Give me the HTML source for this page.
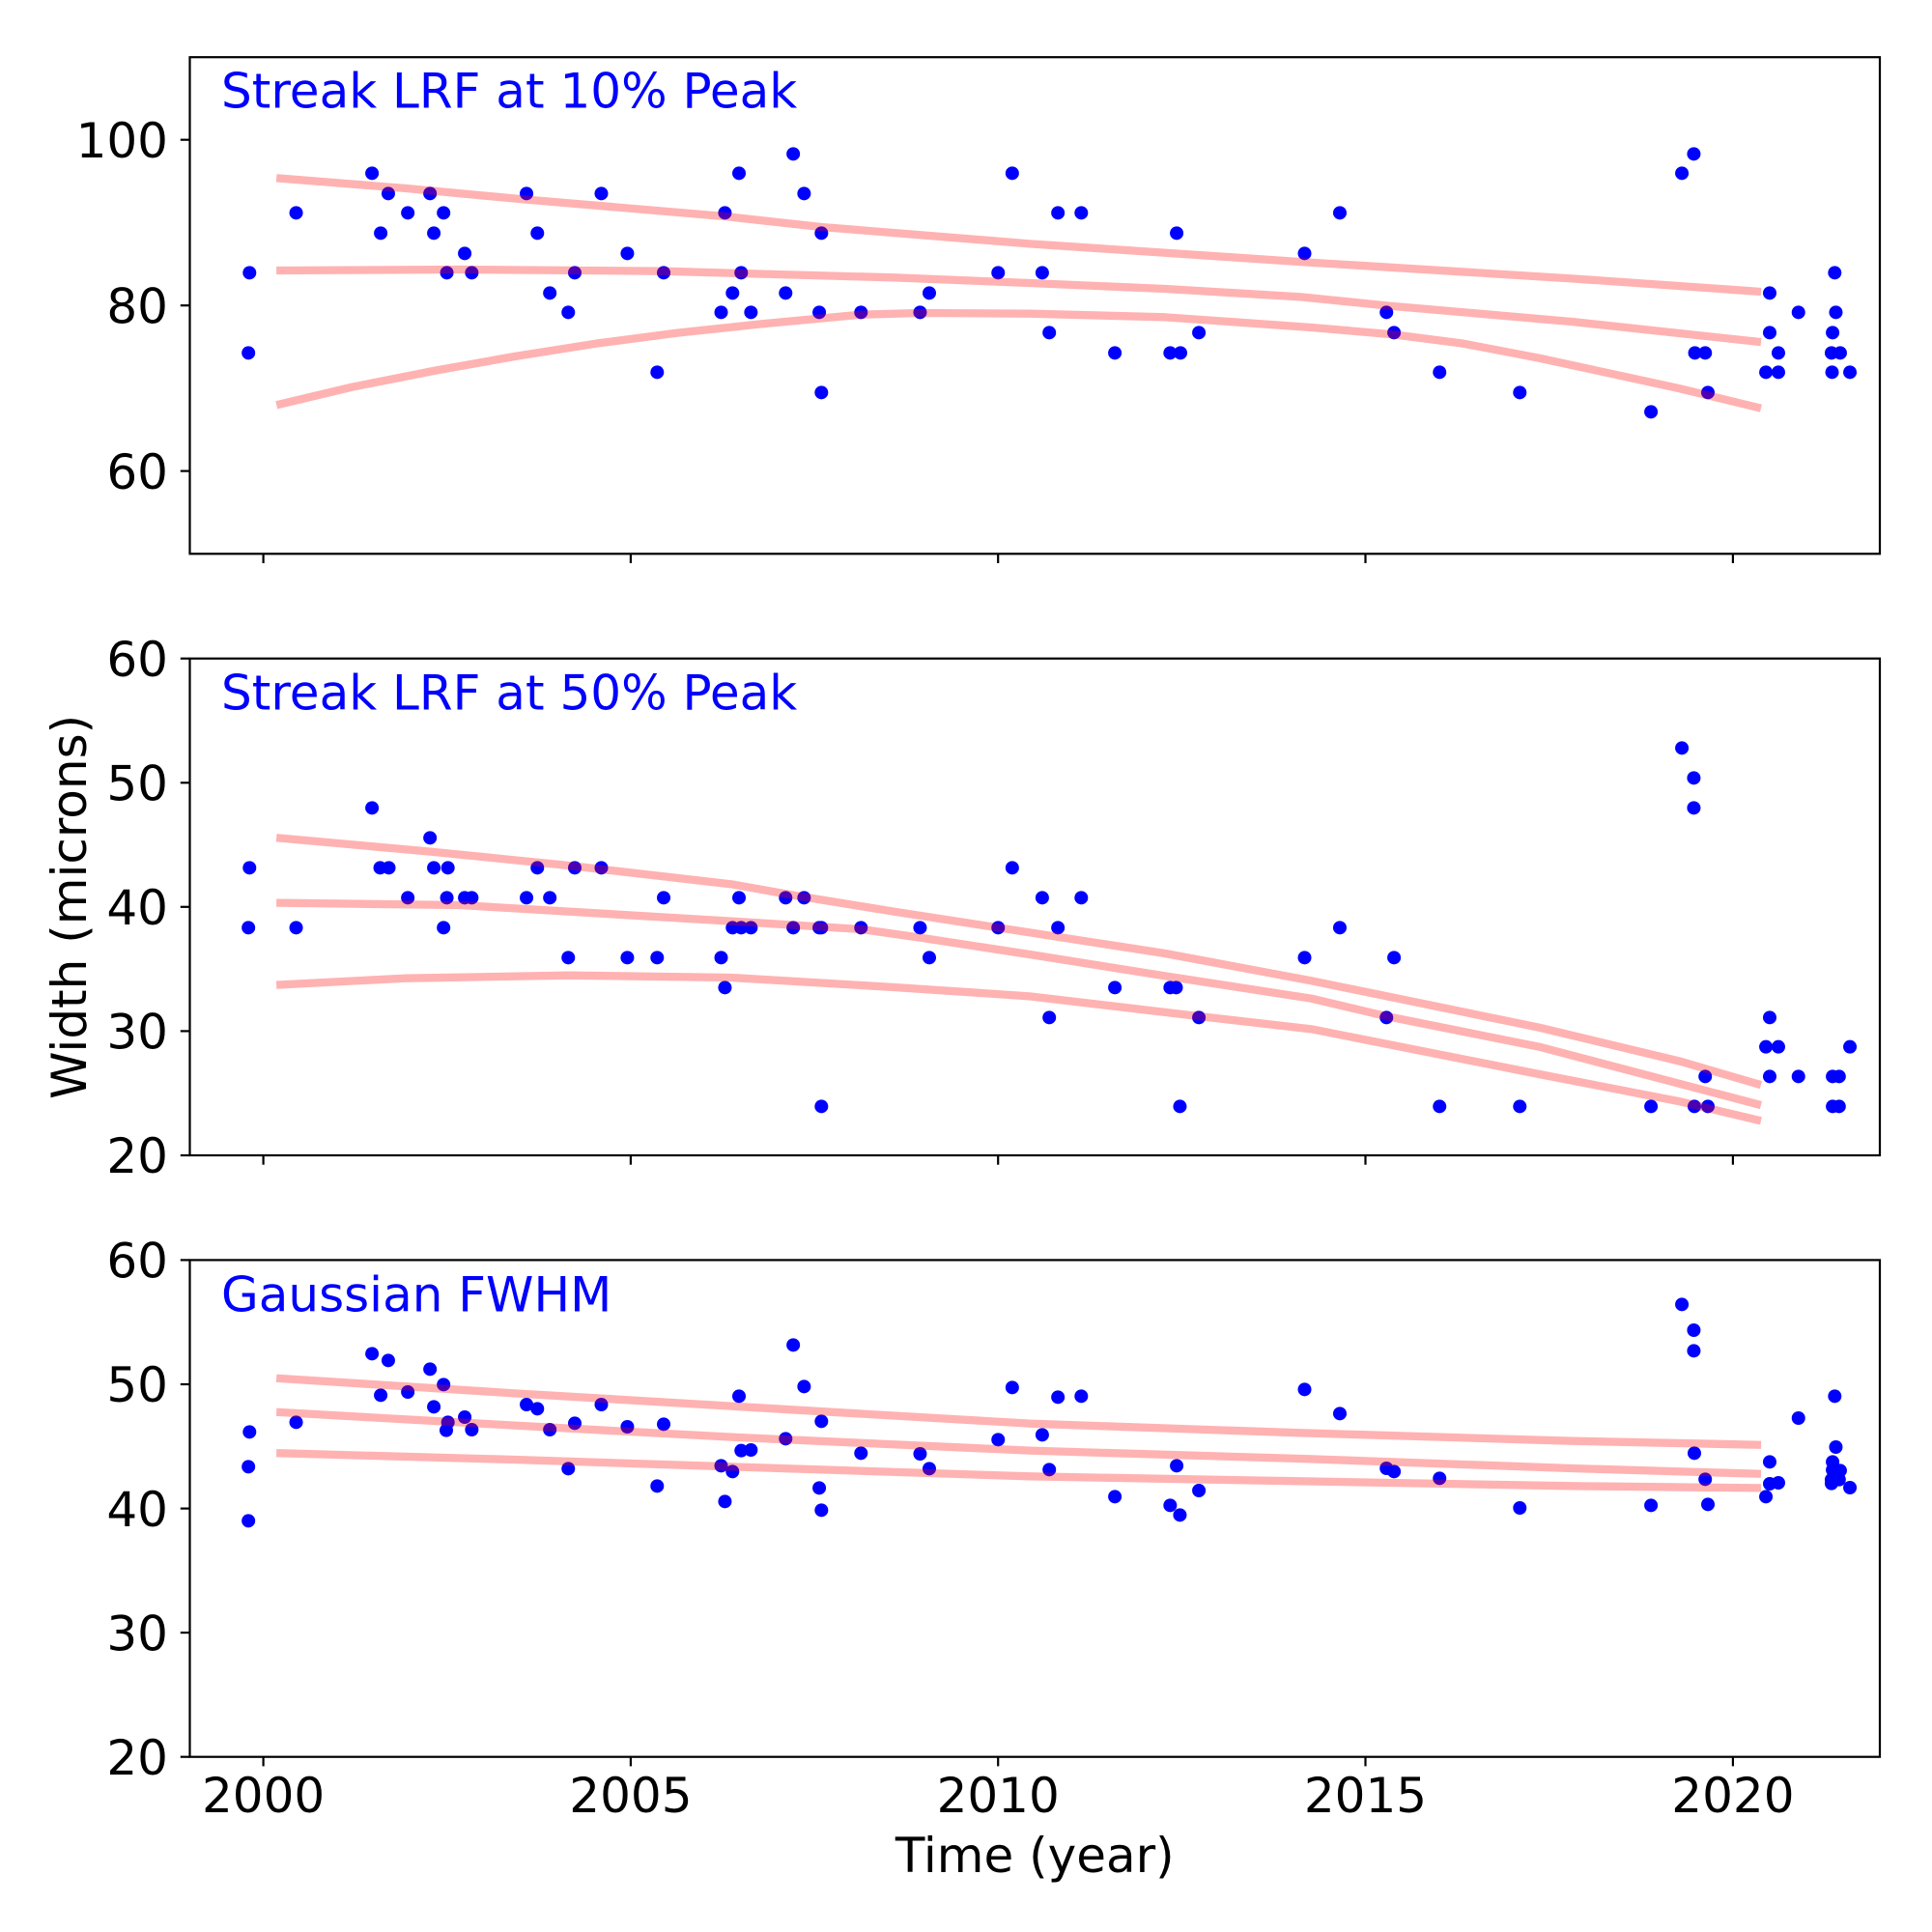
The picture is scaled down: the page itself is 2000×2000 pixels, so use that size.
<!DOCTYPE html>
<html>
<head>
<meta charset="utf-8">
<style>
html,body{margin:0;padding:0;background:#fff;}
svg{display:block;}
text{font-family:"DejaVu Sans","Liberation Sans",sans-serif;}
</style>
</head>
<body>
<svg width="2000" height="2000" viewBox="0 0 2000 2000" xmlns="http://www.w3.org/2000/svg">
<defs>
<ellipse id="d" cx="0" cy="0" rx="12.47" ry="21" fill="#0000ff"/>
</defs>
<rect x="0" y="0" width="2000" height="2000" fill="#fff"/>

<!-- ================= TOP PANEL ================= -->
<g transform="translate(196,59) scale(0.56117,0.333333)">
<use href="#d" x="111" y="670"/><use href="#d" x="109" y="919"/><use href="#d" x="197" y="484"/><use href="#d" x="337" y="361"/><use href="#d" x="367" y="424"/><use href="#d" x="353" y="547"/><use href="#d" x="403" y="484"/><use href="#d" x="444" y="424"/><use href="#d" x="451" y="547"/><use href="#d" x="469" y="484"/><use href="#d" x="475" y="670"/><use href="#d" x="508" y="610"/><use href="#d" x="521" y="670"/><use href="#d" x="622" y="424"/><use href="#d" x="642" y="547"/><use href="#d" x="665" y="733"/><use href="#d" x="699" y="793"/><use href="#d" x="711" y="670"/><use href="#d" x="760" y="424"/><use href="#d" x="808" y="610"/><use href="#d" x="863" y="979"/><use href="#d" x="875" y="670"/><use href="#d" x="981" y="793"/><use href="#d" x="988" y="484"/><use href="#d" x="1002" y="733"/><use href="#d" x="1014" y="361"/><use href="#d" x="1018" y="670"/><use href="#d" x="1036" y="793"/><use href="#d" x="1100" y="733"/><use href="#d" x="1114" y="301"/><use href="#d" x="1134" y="424"/><use href="#d" x="1162" y="793"/><use href="#d" x="1166" y="547"/><use href="#d" x="1166" y="1042"/><use href="#d" x="1239" y="793"/><use href="#d" x="1348" y="793"/><use href="#d" x="1365" y="733"/><use href="#d" x="1492" y="670"/><use href="#d" x="1518" y="361"/>
</g>
<g transform="translate(1066,59) scale(0.56117,0.333333)">
<use href="#d" x="23" y="670"/><use href="#d" x="52" y="484"/><use href="#d" x="95" y="484"/><use href="#d" x="36" y="856"/><use href="#d" x="157" y="919"/><use href="#d" x="259" y="919"/><use href="#d" x="278" y="919"/><use href="#d" x="271" y="547"/><use href="#d" x="312" y="856"/><use href="#d" x="507" y="610"/><use href="#d" x="572" y="484"/><use href="#d" x="658" y="793"/><use href="#d" x="672" y="856"/><use href="#d" x="756" y="979"/><use href="#d" x="904" y="1042"/><use href="#d" x="1146" y="1102"/><use href="#d" x="1203" y="361"/><use href="#d" x="1225" y="301"/><use href="#d" x="1227" y="919"/><use href="#d" x="1246" y="919"/><use href="#d" x="1251" y="1042"/><use href="#d" x="1358" y="979"/><use href="#d" x="1365" y="733"/><use href="#d" x="1365" y="856"/><use href="#d" x="1381" y="919"/><use href="#d" x="1381" y="979"/><use href="#d" x="1418" y="793"/><use href="#d" x="1485" y="670"/><use href="#d" x="1487" y="793"/><use href="#d" x="1481" y="856"/><use href="#d" x="1479" y="919"/><use href="#d" x="1495" y="919"/><use href="#d" x="1480" y="979"/><use href="#d" x="1513" y="979"/>
</g>
<g transform="translate(196,59) scale(0.56117,0.333333)" fill="none" stroke="#ff0000" stroke-opacity="0.3" stroke-width="8.3" stroke-linecap="square" stroke-linejoin="round">
<polyline vector-effect="non-scaling-stroke" points="168,377 400,408 622,443 988,495 1166,528 1550,580 2057,637 2550,688 2892,728"/>
<polyline vector-effect="non-scaling-stroke" points="168,663 500,660 875,665 1018,672 1300,685 1550,702 1800,720 2050,745 2208,772 2550,822 2892,884"/>
<polyline vector-effect="non-scaling-stroke" points="168,1078 300,1025 450,975 600,930 750,890 900,857 1050,830 1240,800 1348,795 1550,797 1800,808 2070,840 2222,862 2350,890 2490,935 2750,1030 2892,1088"/>
</g>

<!-- ================= MIDDLE PANEL ================= -->
<g transform="translate(196,682) scale(0.56117,0.333333)">
<use href="#d" x="111" y="649"/><use href="#d" x="109" y="835"/><use href="#d" x="197" y="835"/><use href="#d" x="337" y="463"/><use href="#d" x="352" y="649"/><use href="#d" x="368" y="649"/><use href="#d" x="403" y="742"/><use href="#d" x="444" y="556"/><use href="#d" x="451" y="649"/><use href="#d" x="477" y="649"/><use href="#d" x="469" y="835"/><use href="#d" x="475" y="742"/><use href="#d" x="508" y="742"/><use href="#d" x="521" y="742"/><use href="#d" x="622" y="742"/><use href="#d" x="642" y="649"/><use href="#d" x="665" y="742"/><use href="#d" x="699" y="928"/><use href="#d" x="711" y="649"/><use href="#d" x="760" y="649"/><use href="#d" x="808" y="928"/><use href="#d" x="863" y="928"/><use href="#d" x="875" y="742"/><use href="#d" x="981" y="928"/><use href="#d" x="988" y="1021"/><use href="#d" x="1002" y="835"/><use href="#d" x="1014" y="742"/><use href="#d" x="1018" y="835"/><use href="#d" x="1036" y="835"/><use href="#d" x="1100" y="742"/><use href="#d" x="1114" y="835"/><use href="#d" x="1134" y="742"/><use href="#d" x="1162" y="835"/><use href="#d" x="1166" y="835"/><use href="#d" x="1166" y="1390"/><use href="#d" x="1239" y="835"/><use href="#d" x="1348" y="835"/><use href="#d" x="1365" y="928"/><use href="#d" x="1492" y="835"/><use href="#d" x="1518" y="649"/>
</g>
<g transform="translate(1066,682) scale(0.56117,0.333333)">
<use href="#d" x="23" y="742"/><use href="#d" x="52" y="835"/><use href="#d" x="95" y="742"/><use href="#d" x="36" y="1114"/><use href="#d" x="157" y="1021"/><use href="#d" x="259" y="1021"/><use href="#d" x="270" y="1021"/><use href="#d" x="277" y="1390"/><use href="#d" x="312" y="1114"/><use href="#d" x="507" y="928"/><use href="#d" x="572" y="835"/><use href="#d" x="658" y="1114"/><use href="#d" x="672" y="928"/><use href="#d" x="756" y="1390"/><use href="#d" x="904" y="1390"/><use href="#d" x="1146" y="1390"/><use href="#d" x="1203" y="277"/><use href="#d" x="1225" y="370"/><use href="#d" x="1225" y="463"/><use href="#d" x="1226" y="1390"/><use href="#d" x="1246" y="1297"/><use href="#d" x="1251" y="1390"/><use href="#d" x="1365" y="1114"/><use href="#d" x="1358" y="1205"/><use href="#d" x="1381" y="1205"/><use href="#d" x="1365" y="1297"/><use href="#d" x="1418" y="1297"/><use href="#d" x="1481" y="1297"/><use href="#d" x="1493" y="1297"/><use href="#d" x="1481" y="1390"/><use href="#d" x="1493" y="1390"/><use href="#d" x="1513" y="1205"/>
</g>
<g transform="translate(196,682) scale(0.56117,0.333333)" fill="none" stroke="#ff0000" stroke-opacity="0.3" stroke-width="8.3" stroke-linecap="square" stroke-linejoin="round">
<polyline vector-effect="non-scaling-stroke" points="168,557 440,598 700,642 1000,700 1117,735 1300,785 1492,835 1550,850 1800,915 2070,1000 2490,1145 2750,1250 2892,1320"/>
<polyline vector-effect="non-scaling-stroke" points="168,758 500,765 1000,815 1240,840 1348,866 1550,918 1800,985 2070,1055 2208,1110 2490,1205 2750,1320 2892,1383"/>
<polyline vector-effect="non-scaling-stroke" points="168,1012 400,992 700,983 1000,990 1300,1020 1550,1048 1862,1110 2070,1150 2490,1290 2750,1375 2892,1432"/>
</g>

<!-- ================= BOTTOM PANEL ================= -->
<g transform="translate(196,1305) scale(0.56117,0.333333)">
<use href="#d" x="111" y="532"/><use href="#d" x="109" y="640"/><use href="#d" x="109" y="808"/><use href="#d" x="197" y="502"/><use href="#d" x="337" y="289"/><use href="#d" x="367" y="310"/><use href="#d" x="353" y="418"/><use href="#d" x="403" y="408"/><use href="#d" x="444" y="337"/><use href="#d" x="469" y="385"/><use href="#d" x="451" y="454"/><use href="#d" x="508" y="486"/><use href="#d" x="477" y="502"/><use href="#d" x="474" y="527"/><use href="#d" x="521" y="525"/><use href="#d" x="622" y="447"/><use href="#d" x="642" y="460"/><use href="#d" x="665" y="525"/><use href="#d" x="711" y="505"/><use href="#d" x="699" y="646"/><use href="#d" x="760" y="447"/><use href="#d" x="808" y="516"/><use href="#d" x="863" y="700"/><use href="#d" x="875" y="508"/><use href="#d" x="981" y="637"/><use href="#d" x="1002" y="655"/><use href="#d" x="988" y="748"/><use href="#d" x="1014" y="421"/><use href="#d" x="1018" y="590"/><use href="#d" x="1036" y="588"/><use href="#d" x="1100" y="553"/><use href="#d" x="1114" y="262"/><use href="#d" x="1134" y="391"/><use href="#d" x="1162" y="706"/><use href="#d" x="1166" y="499"/><use href="#d" x="1166" y="775"/><use href="#d" x="1239" y="598"/><use href="#d" x="1348" y="600"/><use href="#d" x="1365" y="646"/><use href="#d" x="1492" y="556"/><use href="#d" x="1518" y="394"/>
</g>
<g transform="translate(1066,1305) scale(0.56117,0.333333)">
<use href="#d" x="23" y="541"/><use href="#d" x="52" y="424"/><use href="#d" x="95" y="421"/><use href="#d" x="36" y="649"/><use href="#d" x="157" y="733"/><use href="#d" x="259" y="760"/><use href="#d" x="277" y="790"/><use href="#d" x="271" y="637"/><use href="#d" x="312" y="714"/><use href="#d" x="507" y="400"/><use href="#d" x="572" y="475"/><use href="#d" x="658" y="645"/><use href="#d" x="672" y="655"/><use href="#d" x="756" y="676"/><use href="#d" x="904" y="768"/><use href="#d" x="1146" y="760"/><use href="#d" x="1203" y="136"/><use href="#d" x="1225" y="216"/><use href="#d" x="1225" y="280"/><use href="#d" x="1226" y="598"/><use href="#d" x="1246" y="679"/><use href="#d" x="1251" y="757"/><use href="#d" x="1358" y="733"/><use href="#d" x="1365" y="625"/><use href="#d" x="1365" y="693"/><use href="#d" x="1381" y="690"/><use href="#d" x="1418" y="489"/><use href="#d" x="1485" y="421"/><use href="#d" x="1487" y="579"/><use href="#d" x="1481" y="625"/><use href="#d" x="1481" y="650"/><use href="#d" x="1495" y="652"/><use href="#d" x="1479" y="680"/><use href="#d" x="1493" y="680"/><use href="#d" x="1479" y="692"/><use href="#d" x="1513" y="705"/>
</g>
<g transform="translate(196,1305) scale(0.56117,0.333333)" fill="none" stroke="#ff0000" stroke-opacity="0.3" stroke-width="8.3" stroke-linecap="square" stroke-linejoin="round">
<polyline vector-effect="non-scaling-stroke" points="168,366 600,412 1000,452 1550,506 2050,535 2550,560 2892,572"/>
<polyline vector-effect="non-scaling-stroke" points="168,471 600,512 1000,548 1550,590 2050,615 2550,645 2892,662"/>
<polyline vector-effect="non-scaling-stroke" points="168,598 600,618 1000,640 1550,670 2050,685 2550,700 2892,706"/>
</g>

<!-- ================= AXES FRAMES ================= -->
<g fill="none" stroke="#000" stroke-width="2.2">
<rect x="196.5" y="59.2" width="1749.5" height="514.1"/>
<rect x="196.5" y="681.7" width="1749.5" height="514.3"/>
<rect x="196.5" y="1304.4" width="1749.5" height="514.3"/>
</g>

<!-- ticks -->
<g stroke="#000" stroke-width="2.2">
<!-- x ticks top panel -->
<line x1="272.6" y1="573.3" x2="272.6" y2="583"/><line x1="652.9" y1="573.3" x2="652.9" y2="583"/><line x1="1033.2" y1="573.3" x2="1033.2" y2="583"/><line x1="1413.5" y1="573.3" x2="1413.5" y2="583"/><line x1="1793.9" y1="573.3" x2="1793.9" y2="583"/>
<!-- x ticks middle -->
<line x1="272.6" y1="1196" x2="272.6" y2="1205.7"/><line x1="652.9" y1="1196" x2="652.9" y2="1205.7"/><line x1="1033.2" y1="1196" x2="1033.2" y2="1205.7"/><line x1="1413.5" y1="1196" x2="1413.5" y2="1205.7"/><line x1="1793.9" y1="1196" x2="1793.9" y2="1205.7"/>
<!-- x ticks bottom -->
<line x1="272.6" y1="1818.7" x2="272.6" y2="1828.4"/><line x1="652.9" y1="1818.7" x2="652.9" y2="1828.4"/><line x1="1033.2" y1="1818.7" x2="1033.2" y2="1828.4"/><line x1="1413.5" y1="1818.7" x2="1413.5" y2="1828.4"/><line x1="1793.9" y1="1818.7" x2="1793.9" y2="1828.4"/>
<!-- y ticks top -->
<line x1="186.8" y1="144.7" x2="196.5" y2="144.7"/><line x1="186.8" y1="316.2" x2="196.5" y2="316.2"/><line x1="186.8" y1="487.6" x2="196.5" y2="487.6"/>
<!-- y ticks middle -->
<line x1="186.8" y1="681.7" x2="196.5" y2="681.7"/><line x1="186.8" y1="810.3" x2="196.5" y2="810.3"/><line x1="186.8" y1="938.8" x2="196.5" y2="938.8"/><line x1="186.8" y1="1067.4" x2="196.5" y2="1067.4"/><line x1="186.8" y1="1196" x2="196.5" y2="1196"/>
<!-- y ticks bottom -->
<line x1="186.8" y1="1304.4" x2="196.5" y2="1304.4"/><line x1="186.8" y1="1433" x2="196.5" y2="1433"/><line x1="186.8" y1="1561.6" x2="196.5" y2="1561.6"/><line x1="186.8" y1="1690.1" x2="196.5" y2="1690.1"/><line x1="186.8" y1="1818.7" x2="196.5" y2="1818.7"/>
</g>

<!-- tick labels -->
<g font-size="50" fill="#000" text-anchor="end">
<text x="174" y="162.9">100</text><text x="174" y="334.4">80</text><text x="174" y="505.8">60</text>
<text x="174" y="699.9">60</text><text x="174" y="828.5">50</text><text x="174" y="957">40</text><text x="174" y="1085.6">30</text><text x="174" y="1214.2">20</text>
<text x="174" y="1322.6">60</text><text x="174" y="1451.2">50</text><text x="174" y="1579.8">40</text><text x="174" y="1708.3">30</text><text x="174" y="1836.9">20</text>
</g>
<g font-size="50" fill="#000" text-anchor="middle">
<text x="272.6" y="1876">2000</text><text x="652.9" y="1876">2005</text><text x="1033.2" y="1876">2010</text><text x="1413.5" y="1876">2015</text><text x="1793.9" y="1876">2020</text>
<text x="1071.3" y="1938">Time (year)</text>
<text transform="translate(89,938.9) rotate(-90)" x="0" y="0">Width (microns)</text>
</g>

<!-- panel titles -->
<g font-size="50" fill="#0000ff">
<text x="229" y="111.3">Streak LRF at 10% Peak</text>
<text x="229" y="734.3">Streak LRF at 50% Peak</text>
<text x="229" y="1357.3">Gaussian FWHM</text>
</g>
</svg>
</body>
</html>
